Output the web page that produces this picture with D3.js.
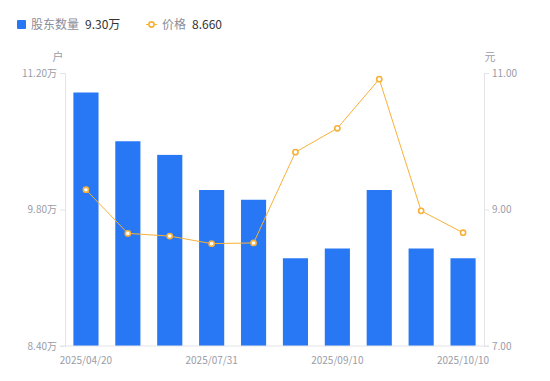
<!DOCTYPE html>
<html>
<head>
<meta charset="utf-8">
<script src="https://cdn.jsdelivr.net/npm/d3@7/dist/d3.min.js"></script>
<style>
  body { margin: 0; background: #fff; }
  svg text { font-family: "Noto Sans CJK SC", "Noto Sans", sans-serif; }
</style>
</head>
<body>
<svg id="chart" width="550" height="381"></svg>
<script>
// data
const dates = ['2025/04/20', '2025/05/31', '2025/06/30', '2025/07/31', '2025/08/10',
               '2025/08/20', '2025/09/10', '2025/09/20', '2025/09/30', '2025/10/10'];
const holders = [11.00, 10.50, 10.36, 10.00, 9.90, 9.30, 9.40, 10.00, 9.40, 9.30]; // 万户
const prices = [9.29, 8.65, 8.61, 8.50, 8.51, 9.84, 10.19, 10.91, 8.98, 8.66];      // 元
const leftTicks = [8.40, 9.80, 11.20];
const rightTicks = [7.00, 9.00, 11.00];
const tickDates = ['2025/04/20', '2025/07/31', '2025/09/10', '2025/10/10'];

const margin = {top: 73, right: 66, bottom: 35, left: 65};
const W = 550, H = 381;
const svg = d3.select('#chart');

const x = d3.scaleBand()
  .domain(dates)
  .range([margin.left, W - margin.right])
  .paddingInner(0.4)
  .paddingOuter(0.2);

const yL = d3.scaleLinear().domain([8.40, 11.20]).range([H - margin.bottom, margin.top]);
const yR = d3.scaleLinear().domain([7.00, 11.00]).range([H - margin.bottom, margin.top]);

const axisColor = '#e3e4e8';
const labelColor = '#9a9ca8';

// bars
svg.append('g')
  .selectAll('rect')
  .data(holders)
  .enter()
  .append('rect')
  .attr('x', (d, i) => x(dates[i]))
  .attr('y', d => yL(d))
  .attr('width', x.bandwidth())
  .attr('height', d => yL(8.40) - yL(d))
  .attr('fill', '#2878f6');

// axes
const left = svg.append('g')
  .attr('transform', `translate(${margin.left},0)`)
  .call(d3.axisLeft(yL).tickValues(leftTicks).tickSize(5).tickPadding(3)
    .tickFormat(d => d.toFixed(2) + '万'));

const right = svg.append('g')
  .attr('transform', `translate(${W - margin.right},0)`)
  .call(d3.axisRight(yR).tickValues(rightTicks).tickSize(5).tickPadding(3)
    .tickFormat(d => d.toFixed(2)));

const bottom = svg.append('g')
  .attr('transform', `translate(0,${H - margin.bottom})`)
  .call(d3.axisBottom(x).tickValues(tickDates).tickSize(0).tickPadding(11));

[left, right, bottom].forEach(g => {
  g.select('.domain').attr('stroke', axisColor);
  g.selectAll('.tick line').attr('stroke', axisColor);
  g.selectAll('.tick text').attr('fill', labelColor).attr('font-size', 10);
});
bottom.select('.domain').attr('d', `M${margin.left - 5},0H${W - margin.right + 5}`);

// unit labels
svg.append('text').attr('x', 58).attr('y', 61).attr('text-anchor', 'middle')
  .attr('font-size', 11).attr('fill', labelColor).text('户');
svg.append('text').attr('x', 490).attr('y', 61).attr('text-anchor', 'middle')
  .attr('font-size', 11).attr('fill', labelColor).text('元');

// price line
const cx = (d, i) => x(dates[i]) + x.bandwidth() / 2;
const line = d3.line().x(cx).y(d => yR(d));
const lineColor = '#f8b138';

svg.append('path')
  .datum(prices)
  .attr('d', line)
  .attr('fill', 'none')
  .attr('stroke', lineColor)
  .attr('stroke-width', 1);

svg.append('g')
  .selectAll('circle')
  .data(prices)
  .enter()
  .append('circle')
  .attr('cx', cx)
  .attr('cy', d => yR(d))
  .attr('r', 2.6)
  .attr('fill', '#fff')
  .attr('stroke', lineColor)
  .attr('stroke-width', 1.6);

// legend
const legend = svg.append('g').attr('font-size', 12);
legend.append('rect').attr('x', 17).attr('y', 20).attr('width', 9).attr('height', 9)
  .attr('rx', 1).attr('fill', '#2878f6');
legend.append('text').attr('x', 31).attr('y', 29).attr('fill', '#8a8d99').text('股东数量');
legend.append('text').attr('x', 85).attr('y', 29).attr('fill', '#333').text(holders[holders.length - 1].toFixed(2) + '万');

legend.append('line').attr('x1', 146).attr('x2', 157).attr('y1', 24.5).attr('y2', 24.5)
  .attr('stroke', lineColor).attr('stroke-width', 1);
legend.append('circle').attr('cx', 151.5).attr('cy', 24.5).attr('r', 2.6)
  .attr('fill', '#fff').attr('stroke', lineColor).attr('stroke-width', 1.6);
legend.append('text').attr('x', 162).attr('y', 29).attr('fill', '#8a8d99').text('价格');
legend.append('text').attr('x', 192).attr('y', 29).attr('fill', '#333').text(prices[prices.length - 1].toFixed(3));
</script>
</body>
</html>
